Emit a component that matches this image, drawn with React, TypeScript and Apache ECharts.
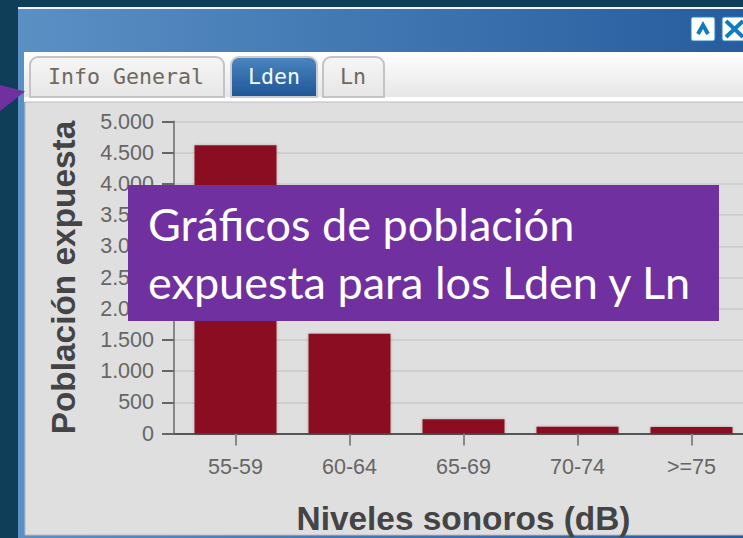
import React, { useEffect, useRef } from "react";
import * as echarts from "echarts";

const categories = ["55-59", "60-64", "65-69", "70-74", ">=75"];
const poblacion = [4620, 1600, 228, 108, 105];
const yTitle = "Población expuesta";
const xTitle = "Niveles sonoros (dB)";
const tabs = ["Info General", "Lden", "Ln"];
const noteLines = ["Gráficos de población", "expuesta para los Lden y Ln"];

const fmt = (v: number) => String(v).replace(/\B(?=(\d{3})+$)/g, ".");
const grad = (x2: number, y2: number, a: string, b: string) =>
  new echarts.graphic.LinearGradient(0, 0, x2, y2, [
    { offset: 0, color: a },
    { offset: 1, color: b },
  ]);

export default function App() {
  const ref = useRef<HTMLDivElement>(null);
  useEffect(() => {
    const chart = echarts.init(ref.current!, null, { renderer: "svg" });
    const tabBox = (x: number, w: number, active: boolean) => ({
      type: "rect",
      z: -5,
      shape: { x, y: 57, width: w, height: 40, r: [8, 8, 0, 0] },
      style: {
        fill: active ? grad(0, 1, "#4a86c0", "#1f5596") : grad(0, 1, "#f6f6f6", "#e6e6e6"),
        stroke: active ? "#c8ccd2" : "#c4c4c4",
        lineWidth: 2,
      },
    });
    const tabText = (x: number, text: string, active: boolean) => ({
      type: "text",
      z: -4,
      x,
      y: 76,
      style: {
        text,
        fill: active ? "#f4fbff" : "#6e6860",
        font: "21.6px 'DejaVu Sans Mono'",
        align: "center",
        verticalAlign: "middle",
      },
    });
    chart.setOption({
      animation: false,
      backgroundColor: "#0f3f58",
      grid: [
        { left: 174, top: 121.5, width: 580, height: 312, outerBoundsMode: "none" },
        { left: 178.5, top: 121.5, width: 570, height: 312, outerBoundsMode: "none" },
      ],
      xAxis: [
        {
          type: "value",
          gridIndex: 0,
          min: 0,
          max: 1,
          axisLabel: { show: false },
          axisTick: { show: false },
          splitLine: { show: false },
          axisLine: { show: true, lineStyle: { color: "#555555", width: 2 } },
        },
        {
          type: "category",
          gridIndex: 1,
          data: categories,
          name: xTitle,
          nameLocation: "middle",
          nameGap: 68,
          nameTextStyle: {
            fontFamily: "Liberation Sans",
            fontWeight: "bold",
            fontSize: 33.4,
            color: "#444444",
          },
          axisLine: { show: false },
          axisTick: { show: true, alignWithLabel: true, length: 12, lineStyle: { color: "#888888", width: 2 } },
          axisLabel: {
            margin: 22,
            fontFamily: "Liberation Sans",
            fontSize: 21.5,
            color: "#666666",
          },
        },
      ],
      yAxis: [
        {
          type: "value",
          gridIndex: 0,
          min: 0,
          max: 5000,
          interval: 500,
          name: yTitle,
          nameLocation: "middle",
          nameGap: 94,
          nameTextStyle: {
            fontFamily: "Liberation Sans",
            fontWeight: "bold",
            fontSize: 33.4,
            color: "#444444",
          },
          axisLine: { show: true, lineStyle: { color: "#888888", width: 2 } },
          axisTick: { show: true, length: 12, lineStyle: { color: "#666666", width: 2 } },
          axisLabel: {
            margin: 20,
            fontFamily: "Liberation Sans",
            fontSize: 21.5,
            color: "#666666",
            formatter: (v: number) => fmt(v),
          },
          splitLine: { show: true, lineStyle: { color: "#cfcfcf", width: 2 } },
        },
        {
          type: "value",
          gridIndex: 1,
          min: 0,
          max: 5000,
          interval: 500,
          axisLabel: { show: false },
          axisTick: { show: false },
          axisLine: { show: false },
          splitLine: { show: false },
        },
      ],
      series: [
        {
          type: "bar",
          xAxisIndex: 1,
          yAxisIndex: 1,
          data: poblacion,
          barWidth: 82,
          itemStyle: {
            color: "#8a1024",
            shadowColor: "rgba(0,0,0,0.25)",
            shadowBlur: 3,
          },
        },
      ],
      graphic: {
        elements: [
          { type: "rect", z: -10, shape: { x: 18, y: 7, width: 760, height: 531 }, style: { fill: "#f2f5f8" } },
          {
            type: "rect",
            z: -9,
            shape: { x: 18, y: 9, width: 760, height: 529 },
            style: { fill: grad(1, 0, "#5a90c4", "#245a9c") },
          },
          {
            type: "rect",
            z: -8,
            shape: { x: 24, y: 52, width: 760, height: 46 },
            style: { fill: grad(0, 1, "#ffffff", "#e6e6e6") },
          },
          { type: "rect", z: -8, shape: { x: 24, y: 97, width: 760, height: 5 }, style: { fill: "#ffffff" } },
          {
            type: "rect",
            z: -8,
            shape: { x: 25, y: 102, width: 760, height: 433 },
            style: { fill: "#dfdfdf", stroke: "#b8bcc2", lineWidth: 1 },
          },
          tabBox(30, 194, false),
          tabBox(231, 86, true),
          tabBox(323, 61, false),
          tabText(126, tabs[0], false),
          tabText(274, tabs[1], true),
          tabText(353, tabs[2], false),
          {
            type: "rect",
            z: -5,
            shape: { x: 691, y: 17, width: 24, height: 24, r: 2 },
            style: { fill: "#ffffff", stroke: "#1b84c4", lineWidth: 1 },
          },
          {
            type: "polyline",
            z: -4,
            shape: { points: [[698, 34], [703, 25], [708, 34]] },
            style: { stroke: "#0f7cc0", lineWidth: 4, fill: "none" },
          },
          {
            type: "rect",
            z: -5,
            shape: { x: 722, y: 17, width: 26, height: 24, r: 2 },
            style: { fill: "#ffffff", stroke: "#1b84c4", lineWidth: 1 },
          },
          { type: "line", z: -4, shape: { x1: 726, y1: 21, x2: 743, y2: 37 }, style: { stroke: "#0f7cc0", lineWidth: 4 } },
          { type: "line", z: -4, shape: { x1: 743, y1: 21, x2: 726, y2: 37 }, style: { stroke: "#0f7cc0", lineWidth: 4 } },
          {
            type: "polygon",
            z: 20,
            shape: { points: [[0, 85], [25, 91.5], [0, 111]] },
            style: { fill: "#7030a0" },
          },
          {
            type: "rect",
            z: 20,
            shape: { x: 128, y: 185, width: 591, height: 136 },
            style: { fill: "#7030a0" },
          },
          {
            type: "text",
            z: 21,
            x: 148,
            y: 224,
            style: { text: noteLines[0], fill: "#ffffff", font: "45px Lato", verticalAlign: "middle" },
          },
          {
            type: "text",
            z: 21,
            x: 148,
            y: 282,
            style: { text: noteLines[1], fill: "#ffffff", font: "45px Lato", verticalAlign: "middle" },
          },
        ],
      },
    });
    return () => chart.dispose();
  }, []);
  return (
    <div style={{ position: "absolute", left: 0, top: 0, width: 743, height: 538, overflow: "hidden" }}>
      <div ref={ref} style={{ width: 760, height: 538 }} />
    </div>
  );
}
